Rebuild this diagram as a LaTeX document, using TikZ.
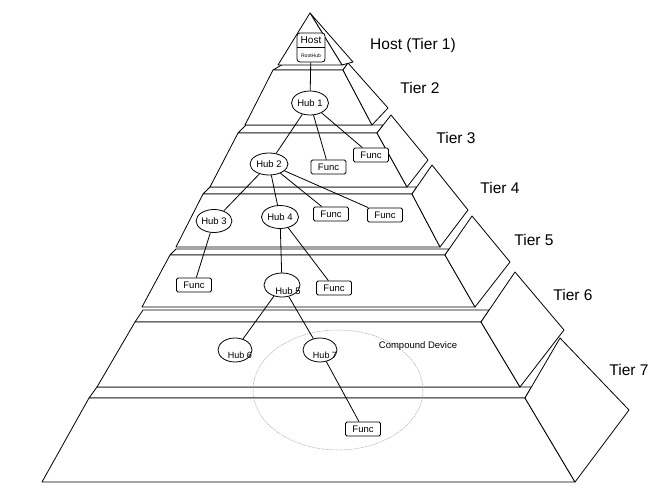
\documentclass[tikz,border=0pt]{standalone}
\usepackage{fontspec}
\setmainfont{Liberation Sans}
\usetikzlibrary{shapes.geometric}
\begin{document}
\begin{tikzpicture}[x=1pt,y=-1pt,line width=0.8pt,line join=round,
  face/.style={draw=black,fill=white},
  hubnode/.style={draw,fill=white,ellipse,minimum width=37pt,minimum height=24pt,inner sep=0pt,font=\fontsize{9.5}{10}\selectfont},
  funcnode/.style={draw,fill=white,rounded corners=1.5pt,minimum width=35pt,minimum height=14pt,inner sep=0pt,font=\fontsize{9.5}{10}\selectfont},
  tierlabel/.style={font=\fontsize{15.5}{18}\selectfont},
  link/.style={draw=black,line width=0.8pt},
  compound/.style={draw=gray!70,line width=0.5pt,dash pattern=on 1.5pt off 1pt}]
\useasboundingbox (0,0) rectangle (668,492);
% Tier 7
\draw[face] (97,387) -- (531.4,387) -- (525,398) -- (89,398) -- cycle;
\draw[face] (89,398) -- (525,398) -- (575,482) -- (42,482) -- cycle;
\draw[face] (525,398) -- (560,338) -- (629,410) -- (575,482) -- cycle;
% Tier 6
\draw[face] (143,310) -- (489.2,310) -- (481,322) -- (135,322) -- cycle;
\draw[face] (135,322) -- (481,322) -- (520,387) -- (97,387) -- cycle;
\draw[face] (481,322) -- (515,272) -- (564,330) -- (520,387) -- cycle;
% Tier 5
\draw[face] (176,249) -- (449.2,249) -- (445,255) -- (170,255) -- cycle;
\draw[face] (170,255) -- (445,255) -- (475,307) -- (142,307) -- cycle;
\draw[face] (445,255) -- (472,216) -- (510,262) -- (475,307) -- cycle;
% Tier 4
\draw[face] (210,187) -- (416.8,187) -- (412,194) -- (203,194) -- cycle;
\draw[face] (203,194) -- (412,194) -- (440,247) -- (176,247) -- cycle;
\draw[face] (412,194) -- (432,165) -- (468,210) -- (440,247) -- cycle;
% Tier 3
\draw[face] (246,125) -- (383.2,125) -- (377,133) -- (238,133) -- cycle;
\draw[face] (238,133) -- (377,133) -- (407,187) -- (210,187) -- cycle;
\draw[face] (377,133) -- (391,115) -- (428,160) -- (407,187) -- cycle;
% Tier 2
\draw[face] (285,63) -- (348,63) -- (343,70) -- (273,70) -- cycle;
\draw[face] (273,70) -- (343,70) -- (372,125) -- (245,125) -- cycle;
\draw[face] (343,70) -- (348,63) -- (388,108) -- (372,125) -- cycle;
% Tier 1
\draw[face] (310,13) -- (353,62) -- (342,65) -- cycle;
\draw[face] (310,13) -- (342,65) -- (278,65) -- cycle;

% tier labels
\node[tierlabel] (t1) at (413,45) {Host (Tier 1)};
\node[tierlabel] (t2) at (420,88) {Tier 2};
\node[tierlabel] (t3) at (456,138) {Tier 3};
\node[tierlabel] (t4) at (500,188) {Tier 4};
\node[tierlabel] (t5) at (534,240) {Tier 5};
\node[tierlabel] (t6) at (573,295) {Tier 6};
\node[tierlabel] (t7) at (629,370) {Tier 7};

% compound device
\draw[compound] (338,390) ellipse [x radius=85, y radius=60];
\node[font=\fontsize{9.5}{10}\selectfont] (cd) at (418,346) {Compound Device};

% host
\node[draw,fill=white,rounded corners=3pt,minimum width=28pt,minimum height=29pt,inner sep=0pt] (host) at (311,47.5) {};
\draw (host.west) -- (host.east);
\node[font=\fontsize{10}{11}\selectfont,inner sep=0pt] (hosttxt) at (311,40.5) {Host};
\node[font=\fontsize{5}{6}\selectfont,inner sep=0pt] (roothub) at (311,55.5) {RootHub};

% hubs
\node[hubnode] (h1) at (310,103) {Hub 1};
\node[hubnode,minimum height=22pt,minimum width=38pt] (h2) at (269,164) {Hub 2};
\node[hubnode,minimum width=35pt,minimum height=23pt] (h3) at (214,221) {Hub 3};
\node[hubnode,minimum height=23pt] (h4) at (280,217) {Hub 4};
\node[hubnode,minimum width=36pt] (h5) at (282,285) {};
\node[hubnode,minimum width=34pt] (h6) at (235,350) {};
\node[hubnode,minimum width=34pt] (h7) at (320,350) {};
\node[font=\fontsize{9.5}{10}\selectfont] (h5t) at (288,291) {Hub 5};
\node[font=\fontsize{9}{10}\selectfont] (h6t) at (240,355) {Hub 6};
\node[font=\fontsize{9}{10}\selectfont] (h7t) at (325,355) {Hub 7};

% funcs
\node[funcnode] (f1) at (328.5,167) {Func};
\node[funcnode] (f2) at (371,155) {Func};
\node[funcnode] (f3) at (331,214) {Func};
\node[funcnode] (f4) at (385,215) {Func};
\node[funcnode] (f5) at (194,285) {Func};
\node[funcnode] (f6) at (334,288) {Func};
\node[funcnode] (f7) at (363,429) {Func};

% links
\draw[link] (host) -- (h1);
\draw[link] (h1) -- (h2);
\draw[link] (h1) -- (f1);
\draw[link] (h1) -- (f2);
\draw[link] (h2) -- (h3);
\draw[link] (h2) -- (h4);
\draw[link] (h2) -- (f3);
\draw[link] (h2) -- (f4);
\draw[link] (h3) -- (f5);
\draw[link] (h4) -- (h5);
\draw[link] (h4) -- (f6);
\draw[link] (h5) -- (h6);
\draw[link] (h5) -- (h7);
\draw[link] (h7) -- (f7);
\end{tikzpicture}
\end{document}
